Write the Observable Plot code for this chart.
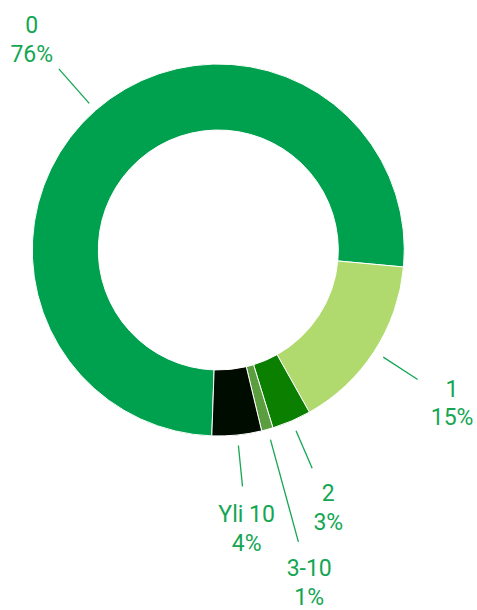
<!DOCTYPE html>
<html>
<head>
<meta charset="utf-8">
<script src="https://cdn.jsdelivr.net/npm/d3@7"></script>
<script src="https://cdn.jsdelivr.net/npm/@observablehq/plot@0.6"></script>
<style>
  html, body { margin: 0; padding: 0; background: #fff; }
  #chart svg { display: block; }
</style>
</head>
<body>
<div id="chart"></div>
<script>
// ---- data ----
const categories = ["0", "1", "2", "3-10", "Yli 10"];
const values = [75.9, 15.4, 3.4, 1.0, 4.3];
const colors = ["#00a14e", "#b0d96e", "#0b7f00", "#5b9e40", "#000c00"];

// ---- layout ----
const W = 477, H = 610;
const cx = 218.3, cy = 250;
const outerR = 186, innerR = 120;
const startDeg = 182;
const connStart = 196, connEnd = 237, labelR = 278;
const extraOffset = { "3-10": 65, "0": 5 };
const textColor = "#14a653";

const data = categories.map((c, i) => ({ category: c, value: values[i] }));
const a0 = startDeg * Math.PI / 180;
const pie = d3.pie().sort(null).value(d => d.value).startAngle(a0).endAngle(a0 + 2 * Math.PI);
const arcs = pie(data);

const labelData = arcs.map(a => {
  const mid = (a.startAngle + a.endAngle) / 2;
  const ex = extraOffset[a.data.category] || 0;
  const sx = Math.sin(mid), sy = -Math.cos(mid);
  return {
    category: a.data.category,
    x1: sx * connStart, y1: sy * connStart,
    x2: sx * (connEnd + ex), y2: sy * (connEnd + ex),
    lx: sx * (labelR + ex), ly: sy * (labelR + ex),
    text: `${a.data.category}\n${Math.round(a.data.value)}%`
  };
});

// donut slices drawn with Plot's scales (x/y for the centre, color for fills)
const donut = (index, scales) => {
  const x0 = scales.x(0), y0 = scales.y(0);
  const arc = d3.arc().innerRadius(innerR).outerRadius(outerR);
  const g = d3.create("svg:g").attr("transform", `translate(${x0},${y0})`);
  g.selectAll("path")
    .data(arcs)
    .join("path")
    .attr("d", arc)
    .attr("fill", (d, i) => scales.color ? scales.color(d.data.category) : colors[i])
    .attr("stroke", "#ffffff")
    .attr("stroke-width", 1)
    .attr("stroke-linejoin", "round");
  return g.node();
};

const chart = Plot.plot({
  width: W,
  height: H,
  margin: 0,
  style: { fontFamily: "Roboto, 'Open Sans', sans-serif", background: "#fff", overflow: "visible" },
  x: { domain: [-cx, W - cx], range: [0, W], axis: null },
  y: { domain: [-cy, H - cy], range: [0, H], axis: null },
  color: { type: "ordinal", domain: categories, range: colors },
  marks: [
    donut,
    Plot.link(labelData, {
      x1: "x1", y1: "y1", x2: "x2", y2: "y2",
      stroke: textColor, strokeWidth: 1.3
    }),
    Plot.text(labelData, {
      x: "lx", y: "ly", text: "text",
      fill: textColor, fontSize: 23, lineHeight: 1.26,
      textAnchor: "middle", lineAnchor: "middle"
    })
  ]
});

document.getElementById("chart").appendChild(chart);
</script>
</body>
</html>
